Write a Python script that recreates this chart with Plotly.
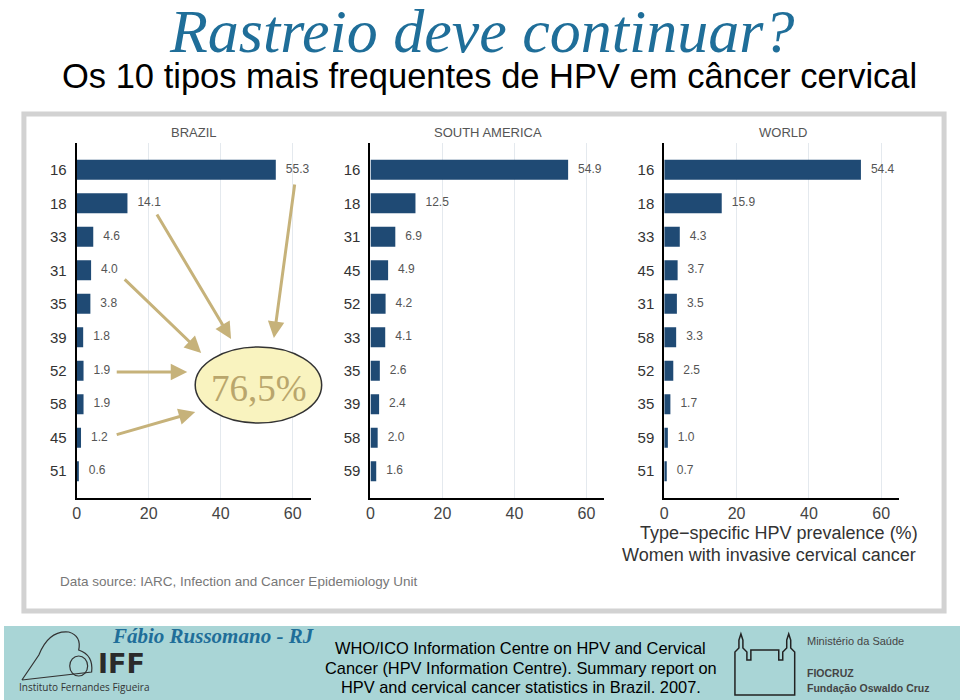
import plotly.graph_objects as go

W, H = 960, 700

# ---------------- data ----------------
panel_titles = ["BRAZIL", "SOUTH AMERICA", "WORLD"]
brazil_types = ["16", "18", "33", "31", "35", "39", "52", "58", "45", "51"]
brazil_values = [55.3, 14.1, 4.6, 4.0, 3.8, 1.8, 1.9, 1.9, 1.2, 0.6]
sa_types = ["16", "18", "31", "45", "52", "33", "35", "39", "58", "59"]
sa_values = [54.9, 12.5, 6.9, 4.9, 4.2, 4.1, 2.6, 2.4, 2.0, 1.6]
world_types = ["16", "18", "33", "45", "31", "58", "52", "35", "59", "51"]
world_values = [54.4, 15.9, 4.3, 3.7, 3.5, 3.3, 2.5, 1.7, 1.0, 0.7]
x_ticks = [0, 20, 40, 60]

panels = [(brazil_types, brazil_values), (sa_types, sa_values), (world_types, world_values)]

# ---------------- helpers (window pixel -> paper) ----------------
def px(x):
    return x / W

def py(y):
    return 1 - y / H

BAR = "#1f4a74"
TAN = "#c6b27a"
TEAL = "#1f6e99"

annotations = []
shapes = []

def note(x, y, text, family="Liberation Sans", size=12, color="#333", xanchor="center", yanchor="middle"):
    annotations.append(dict(xref="paper", yref="paper", x=px(x), y=py(y), text=text, showarrow=False,
                            xanchor=xanchor, yanchor=yanchor,
                            font=dict(family=family, size=size, color=color)))

fig = go.Figure()

x_dom_px = [(73, 308), (368, 603), (663, 899)]
title_cx = [191, 486, 782]
y_top, y_bot = 143, 498

# frame
shapes.append(dict(type="rect", xref="paper", yref="paper", x0=px(20), x1=px(944), y0=py(114), y1=py(611),
                   line=dict(color="#d2d2d2", width=5), fillcolor="white", layer="below"))

for i, (types, vals) in enumerate(panels):
    k = "" if i == 0 else str(i + 1)
    idx = list(range(len(types)))
    fig.add_trace(go.Bar(
        x=vals, y=idx, orientation="h", width=0.6,
        marker=dict(color=BAR, line=dict(width=0)),
        xaxis="x" + k, yaxis="y" + k, showlegend=False, hoverinfo="x+y",
    ))
    fig.add_trace(go.Scatter(
        x=vals, y=idx, mode="text", text=[f"{v:.1f}" for v in vals],
        textposition="middle right", textfont=dict(family="Liberation Sans", size=12, color="#555"),
        xaxis="x" + k, yaxis="y" + k, showlegend=False, hoverinfo="skip",
        texttemplate="   %{text}",
    ))
    x0, x1 = x_dom_px[i]
    fig.layout["xaxis" + k] = dict(
        domain=[px(x0), px(x1)], range=[0, 65], anchor="y" + k,
        tickvals=x_ticks, showline=True, linecolor="black", linewidth=2,
        showgrid=True, gridcolor="#e4e9ee", gridwidth=1, zeroline=False,
        tickfont=dict(family="Liberation Sans", size=16, color="#444"),
        ticks="", fixedrange=True,
    )
    fig.layout["yaxis" + k] = dict(
        domain=[py(y_bot), py(y_top)], range=[9.8, -0.8], anchor="x" + k,
        tickvals=idx, ticktext=types, showline=True, linecolor="black", linewidth=2,
        showgrid=False, zeroline=False, ticks="", ticklabelstandoff=5,
        tickfont=dict(family="Liberation Sans", size=15, color="#333"), fixedrange=True,
    )
    note(title_cx[i], 132, panel_titles[i], size=13, color="#555")

# titles
note(479, 31, "<i>Rastreio deve continuar?</i>", family="Liberation Serif", size=62, color=TEAL)
note(488, 76, "Os 10 tipos mais frequentes de HPV em câncer cervical", size=34.5, color="black")

# axis caption & source
note(778, 533, "Type−specific HPV prevalence (%)", size=18)
note(768, 555, "Women with invasive cervical cancer", size=18)
note(54, 581, "Data source: IARC, Infection and Cancer Epidemiology Unit", size=13.5, color="#777", xanchor="left")

# ellipse
shapes.append(dict(type="circle", xref="paper", yref="paper", x0=px(192), x1=px(319), y0=py(423), y1=py(347),
                   fillcolor="#f9f3bf", line=dict(color="#333", width=1.5)))
note(256, 388, "76,5%", family="Liberation Serif", size=37, color="#b9a66c")

# arrows (tail -> head, pixel coords)
arrows = [((292, 183), (271, 338)), ((153, 213), (228, 339)), ((120, 278), (198, 353)),
          ((112, 372), (184, 372)), ((112, 435), (192, 412))]
for (tx, ty), (hx, hy) in arrows:
    annotations.append(dict(xref="paper", yref="paper", x=px(hx), y=py(hy), ax=tx - hx, ay=ty - hy,
                            axref="pixel", ayref="pixel", text="", showarrow=True, arrowhead=2,
                            arrowsize=1.1, arrowwidth=3, arrowcolor=TAN, standoff=0))

# footer band
shapes.append(dict(type="rect", xref="paper", yref="paper", x0=0, x1=1, y0=0, y1=py(626),
                   fillcolor="#a9d5d6", line=dict(width=0), layer="below"))
note(210, 636, "<b><i>Fábio Russomano - RJ</i></b>", family="Liberation Serif", size=21, color=TEAL)
note(92, 663, "<b>IFF</b>", family="DejaVu Sans", size=27, color="#2a2a2a", xanchor="left")
note(13, 687, "Instituto Fernandes Figueira", family="Open Sans", size=10, color="#333", xanchor="left")

# IFF logo sketch (mother & child outline)
shapes.append(dict(type="path", xref="paper", yref="paper",
                   path=f"M {px(18)},{py(680)} L {px(35)},{py(655)} Q {px(45)},{py(630)} {px(65)},{py(632)} "
                        f"Q {px(78)},{py(636)} {px(75)},{py(650)} Q {px(90)},{py(655)} {px(88)},{py(672)} "
                        f"L {px(18)},{py(680)}",
                   line=dict(color="#333", width=1.2)))
shapes.append(dict(type="circle", xref="paper", yref="paper", x0=px(66), x1=px(84), y0=py(676), y1=py(656),
                   line=dict(color="#333", width=1.2)))

who = ["WHO/ICO Information Centre on HPV and Cervical",
       "Cancer (HPV Information Centre). Summary report on",
       "HPV and cervical cancer statistics in Brazil. 2007."]
for j, line in enumerate(who):
    note(519, 648 + 19.5 * j, line, size=16.4, color="black")

# FIOCRUZ castle sketch
castle = [(734, 695), (734, 652), (738, 648), (738, 640), (740, 634), (742, 640), (742, 648), (746, 652),
          (746, 660), (750, 660), (750, 650), (778, 650), (778, 660), (782, 660), (782, 652), (786, 648),
          (786, 640), (788, 634), (790, 640), (790, 648), (794, 652), (794, 695), (734, 695)]
path = "M " + " L ".join(f"{px(x)},{py(y)}" for x, y in castle) + " Z"
shapes.append(dict(type="path", xref="paper", yref="paper", path=path, line=dict(color="#222", width=1.5)))
note(804, 641, "Ministério da Saúde", size=11, color="#444", xanchor="left")
note(804, 673, "<b>FIOCRUZ</b>", size=10.5, color="#444", xanchor="left")
note(804, 688, "<b>Fundação Oswaldo Cruz</b>", size=10.5, color="#444", xanchor="left")

fig.update_layout(
    width=W, height=H, margin=dict(l=0, r=0, t=0, b=0),
    paper_bgcolor="white", plot_bgcolor="rgba(0,0,0,0)",
    annotations=annotations, shapes=shapes,
)

fig.write_html("out.html", config={"displayModeBar": False},
               post_script="document.body.style.margin='0';document.body.style.overflow='hidden';")
